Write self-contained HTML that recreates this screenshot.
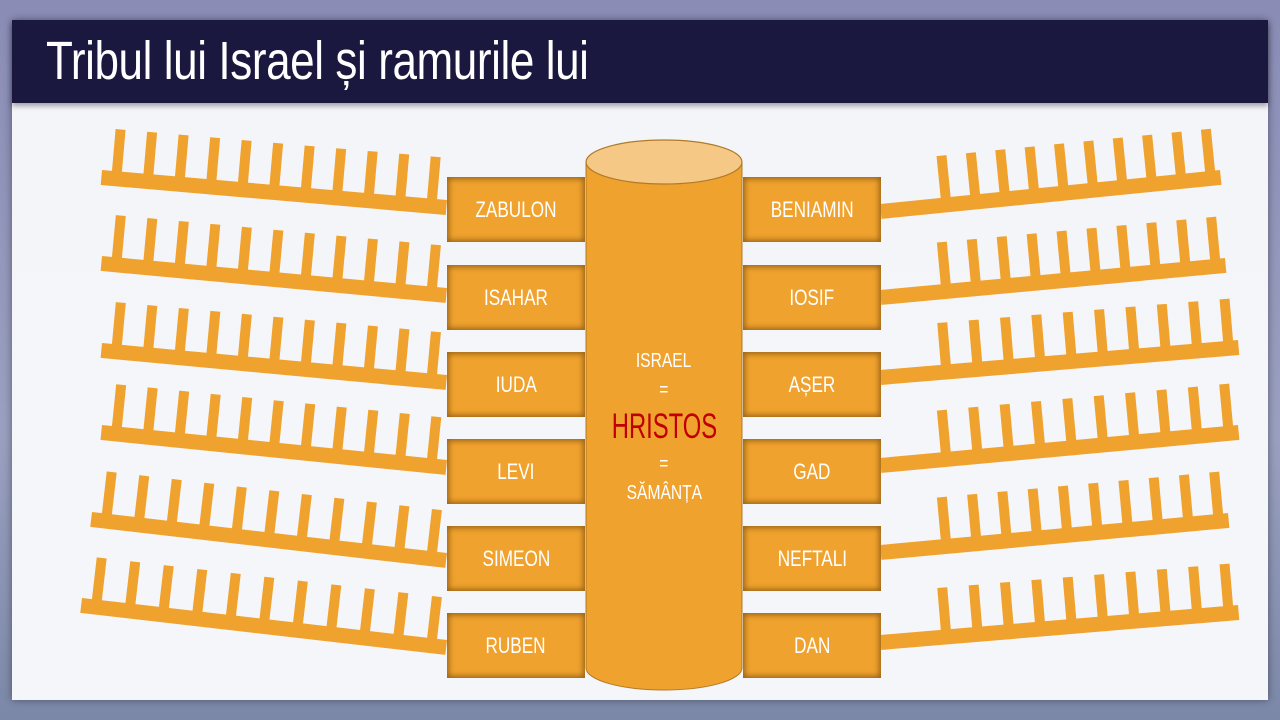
<!DOCTYPE html>
<html><head><meta charset="utf-8">
<style>
html,body{margin:0;padding:0;width:1280px;height:720px;overflow:hidden;background:linear-gradient(#8a8cb6,#9aa0c0 60%,#7c88a8);font-family:"Liberation Sans Narrow","Liberation Sans",sans-serif}
#panel{position:absolute;left:12px;top:20px;width:1256px;height:680px;background:linear-gradient(#e9eaef,#f4f5f9 10%,#f5f6f9);box-shadow:0 0 8px rgba(0,0,0,.4)}
#hdr{position:absolute;left:12px;top:20px;width:1256px;height:83px;background:#1b1840;box-shadow:0 3px 5px rgba(0,0,0,.35)}
#hdr span{position:absolute;left:34px;top:10px;color:#fff;font-size:54px;font-family:"Liberation Sans Narrow","Liberation Sans",sans-serif;transform:scaleX(.815);transform-origin:left;white-space:nowrap;letter-spacing:-0.5px}
svg{position:absolute;left:0;top:0}
.b{position:absolute;width:138px;height:65px;background:#f0a22e;box-shadow:inset 0 0 6px 2px #9a6416;color:#fff;font-size:22px;display:flex;align-items:center;justify-content:center}
.b span{transform:scaleX(.78);white-space:nowrap}
.c{position:absolute;left:586px;width:156px;text-align:center;color:#fff;font-size:20px}
.c span{display:inline-block;transform:scaleX(.78);white-space:nowrap}
</style></head><body>
<div id="panel"></div>
<div id="hdr"><span>Tribul lui Israel și ramurile lui</span></div>
<svg id="s" width="1280" height="720" viewBox="0 0 1280 720"></svg>
<div class="b" style="left:447px;top:177px"><span>ZABULON</span></div>
<div class="b" style="left:447px;top:265px"><span>ISAHAR</span></div>
<div class="b" style="left:447px;top:352px"><span>IUDA</span></div>
<div class="b" style="left:447px;top:439px"><span>LEVI</span></div>
<div class="b" style="left:447px;top:526px"><span>SIMEON</span></div>
<div class="b" style="left:447px;top:613px"><span>RUBEN</span></div>
<div class="b" style="left:743px;top:177px"><span>BENIAMIN</span></div>
<div class="b" style="left:743px;top:265px"><span>IOSIF</span></div>
<div class="b" style="left:743px;top:352px"><span>AȘER</span></div>
<div class="b" style="left:743px;top:439px"><span>GAD</span></div>
<div class="b" style="left:743px;top:526px"><span>NEFTALI</span></div>
<div class="b" style="left:743px;top:613px"><span>DAN</span></div>
<svg width="1280" height="720" style="pointer-events:none">
<path d="M586,162 L586,668 A78,22 0 0 0 742,668 L742,162 Z" fill="#f0a22e" stroke="#b07a28" stroke-width="1"/>
<ellipse cx="664" cy="162" rx="78" ry="22" fill="#f6c886" stroke="#b07a28" stroke-width="1.2"/>
</svg>
<div class="c" style="top:350px"><span>ISRAEL</span></div>
<div class="c" style="top:379px"><span>=</span></div>
<div class="c" style="top:407px;color:#c00000;font-size:35px"><span style="transform:scaleX(.68)">HRISTOS</span></div>
<div class="c" style="top:453px"><span>=</span></div>
<div class="c" style="top:482px"><span>SĂMÂNȚA</span></div>
<script>
var s=document.getElementById('s'),h='';
function comb(x1,y1,x2,y2,t0,t1,n){
 var dx=x2-x1,dy=y2-y1,L=Math.sqrt(dx*dx+dy*dy),a=Math.atan2(dy,dx)*180/Math.PI;
 var g='<g transform="translate('+x1+','+y1+') rotate('+a+')" fill="#f0a22e"><rect x="0" y="0" width="'+L+'" height="15"/>';
 for(var i=0;i<n;i++){var x=t0+(L-t0-t1)*i/(n-1);g+='<rect x="'+(x-5)+'" y="-42" width="10" height="44"/>';}
 return g+'</g>';
}
var Lc=[[102,170,447,200],[102,256,447,288],[102,343,447,375],[102,425,447,460],[92,512,447,553],[82,598,447,640]];
Lc.forEach(function(c){h+=comb(c[0],c[1],c[2],c[3],15,15,11);});
var Rc=[[880,204,1220,170],[880,290,1225,258],[880,370,1238,340],[880,458,1238,425],[880,545,1228,513],[880,635,1238,605]];
Rc.forEach(function(c){h+=comb(c[0],c[1],c[2],c[3],66,10,10);});
s.innerHTML=h;
</script>
</body></html>
